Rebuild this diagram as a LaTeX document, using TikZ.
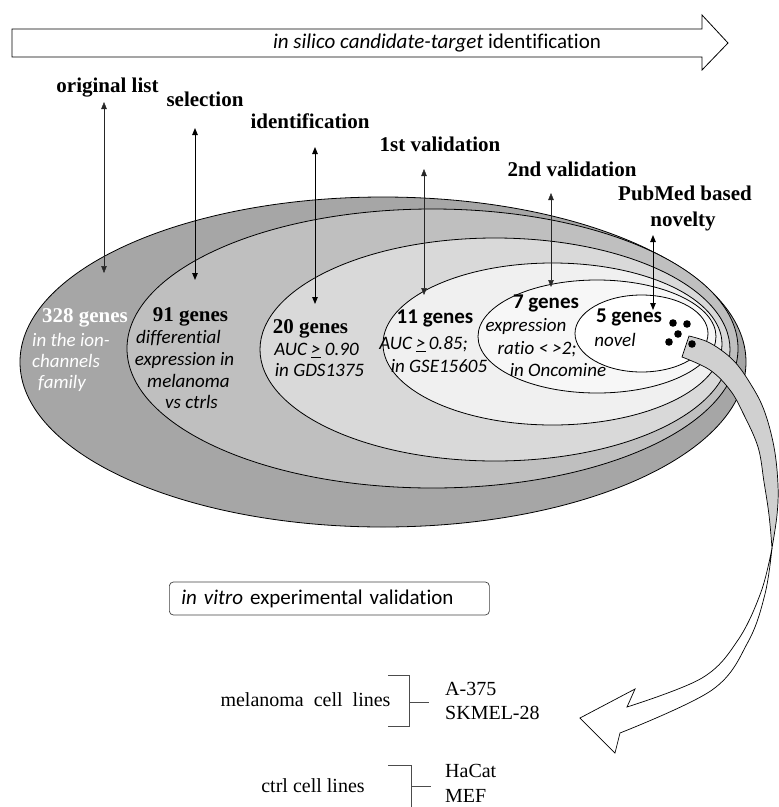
\documentclass[tikz,border=0pt]{standalone}
\usepackage{fontspec}
\setmainfont{Liberation Serif}
\newfontfamily\carl[RawFeature={-liga}]{Carlito}
\usetikzlibrary{arrows.meta}
\definecolor{gA}{HTML}{A6A6A6}
\definecolor{gB}{HTML}{BFBFBF}
\definecolor{gC}{HTML}{D9D9D9}
\definecolor{gD}{HTML}{F0F0F0}
\definecolor{gE}{HTML}{F7F7F7}
\definecolor{gR}{HTML}{D0D0D0}
\tikzset{
  ell/.style={line width=0.8pt, draw=black},
  toplbl/.style={font=\fontsize{21}{25}\selectfont\bfseries, inner sep=0pt, text height=14.7pt, text depth=4.6pt},
  serifb/.style={font=\fontsize{21}{25}\selectfont\bfseries, inner sep=0pt, text height=14.7pt, text depth=4.6pt},
  sansb/.style={font=\fontsize{21}{25}\selectfont\carl\bfseries, inner sep=0pt, text height=14.7pt, text depth=4.6pt},
  sansi/.style={font=\fontsize{19}{23}\selectfont\carl\itshape, inner sep=0pt, text height=13.3pt, text depth=4.2pt},
  cell/.style={font=\fontsize{20}{24}\selectfont, inner sep=0pt, text height=14pt, text depth=4.4pt},
  varr/.style={{Triangle[length=7pt,width=5.5pt]}-{Triangle[length=7pt,width=5.5pt]}, line width=0.9pt},
  varrthin/.style={{Triangle[length=7pt,width=5.5pt]}-{Triangle[length=7pt,width=5.5pt]}, line width=0.5pt, draw=black!85, fill=black},
  brk/.style={line width=0.6pt, draw=black!70},
}
\begin{document}
\begin{tikzpicture}[x=1pt,y=-1pt]
\useasboundingbox (0,0) rectangle (779,807);

% banner arrow
\draw[line width=0.8pt, fill=white] (12,29) -- (702,29) -- (702,15) -- (728,43) -- (702,70) -- (702,57) -- (12,57) -- cycle;
\node (banner) [font=\fontsize{21}{25}\selectfont\carl, inner sep=0pt] at (437,43) {\textit{in silico candidate-target} identification};

% ellipses
\filldraw[ell, fill=gA] (383,362) ellipse [x radius=363pt, y radius=165pt];
\filldraw[ell, fill=gB] (432.5,348.5) ellipse [x radius=305.5pt, y radius=139.5pt];
\filldraw[ell, fill=gC] (495,349.5) ellipse [x radius=235pt, y radius=111.5pt];
\filldraw[ell, fill=gD] (552.5,344) ellipse [x radius=169.5pt, y radius=81pt];
\filldraw[ell, fill=gE] (597,336.5) ellipse [x radius=119pt, y radius=56.5pt];
\filldraw[ell, fill=white] (641.5,333.5) ellipse [x radius=66.5pt, y radius=38.5pt];

% top labels
\node (l1) [toplbl] at (107.5,87) {original list};
\node (l2) [toplbl] at (205,101) {selection};
\node (l3) [toplbl] at (310,123) {identification};
\node (l4) [toplbl] at (440,146) {1st validation};
\node (l5) [toplbl] at (572,171) {2nd validation};
\node (l6) [toplbl] at (685,195) {PubMed based};
\node (l6b) [toplbl] at (683,221) {novelty};

% vertical arrows
\coordinate (a1t) at (104,102); \coordinate (a1b) at (104,273);
\coordinate (a2t) at (195,128); \coordinate (a2b) at (195,280);
\coordinate (a3t) at (315,147); \coordinate (a3b) at (315,304);
\coordinate (a4t) at (424,169); \coordinate (a4b) at (424,295);
\coordinate (a5t) at (551,193); \coordinate (a5b) at (551,287);
\coordinate (a6t) at (653,235); \coordinate (a6b) at (653,310);
\draw[varrthin] (a1t) -- (a1b);
\draw[varr] (a2t) -- (a2b);
\draw[varr] (a3t) -- (a3b);
\draw[varrthin] (a4t) -- (a4b);
\draw[varrthin] (a5t) -- (a5b);
\draw[varr] (a6t) -- (a6b);

% ellipse texts
\node (t328) [serifb, text=white] at (85,317) {328 genes};
\node (t328a) [sansi, text=white, anchor=west] at (32,342) {in the ion-};
\node (t328b) [sansi, text=white, anchor=west] at (32,363) {channels};
\node (t328c) [sansi, text=white, anchor=west] at (38,384) {family};

\node (t91) [serifb] at (190.5,316) {91 genes};
\node (t91a) [sansi] at (178.5,339) {differential};
\node (t91b) [sansi] at (184.5,361) {expression in};
\node (t91c) [sansi] at (188.5,383) {melanoma};
\node (t91d) [sansi] at (191.5,404) {vs ctrls};

\node (t20) [serifb] at (310.5,328) {20 genes};
\node (t20a) [sansi] at (316.5,351) {AUC \underline{>} 0.90};
\node (t20b) [sansi] at (319.5,372) {in GDS1375};

\node (t11) [sansb] at (435,318) {11 genes};
\node (t11a) [sansi] at (423.5,345) {AUC \underline{>}\,0.85;};
\node (t11b) [sansi] at (439,368) {in GSE15605};

\node (t7) [sansb] at (546,303) {7 genes};
\node (t7a) [sansi] at (526,327) {expression};
\node (t7b) [sansi] at (537,350) {ratio < >2;};
\node (t7c) [sansi] at (558,372) {in Oncomine};

\node (t5) [sansb] at (629,317) {5 genes};
\node (t5a) [sansi] at (615,342) {novel};

% curved ribbon arrow
\filldraw[line width=0.7pt, fill=gR] (682,357) -- (689,336)
  -- plot[smooth, tension=0.6] coordinates {(689,336) (710,343) (733,360) (750,383) (764,410) (774,447) (778,485) (777,515) (772,548)}
  -- plot[smooth, tension=0.6] coordinates {(772,548) (769,515) (764,482) (758,447) (743,413) (730,390) (710,370) (682,357)}
  -- cycle;
\filldraw[line width=0.7pt, fill=white] (772,548)
  -- plot[smooth, tension=0.6] coordinates {(772,548) (761,592) (738,640) (702,678) (627,707)}
  -- (635,689) -- (580,718) -- (615,753) -- (620,733)
  -- plot[smooth, tension=0.6] coordinates {(620,733) (712,690) (748,642) (765,594) (772,548)}
  -- cycle;

% dots
\foreach \p in {(673,323),(687,324),(678,334),(669,342),(692,344)}
  \fill \p circle [radius=3.8pt];

% in vitro box
\node (ivbox) [draw=black!75, line width=0.7pt, rounded corners=4pt, anchor=west, minimum height=33pt, text width=296pt, inner xsep=12pt, align=left, font=\fontsize{21}{25}\selectfont\carl] at (169,598.5) {\textit{in vitro} experimental validation};

% cell lines
\node (mel) [cell] at (305.5,702) {melanoma\ \ cell\ \ lines};
\node (a375) [cell, anchor=west] at (445,691) {A-375};
\node (sk) [cell, anchor=west] at (445,715) {SKMEL-28};
\draw[brk] (388,675) -- (409,675) -- (409,726) -- (388,726);
\draw[brk] (409,702) -- (429,702);

\node (ctrl) [cell] at (313,788) {ctrl\ cell\ lines};
\node (hacat) [cell, anchor=west] at (445,773) {HaCat};
\node (mef) [cell, anchor=west] at (445,798) {MEF};
\draw[brk] (388,765) -- (411,765) -- (411,810);
\draw[brk] (411,786) -- (431,786);
\end{tikzpicture}
\end{document}
